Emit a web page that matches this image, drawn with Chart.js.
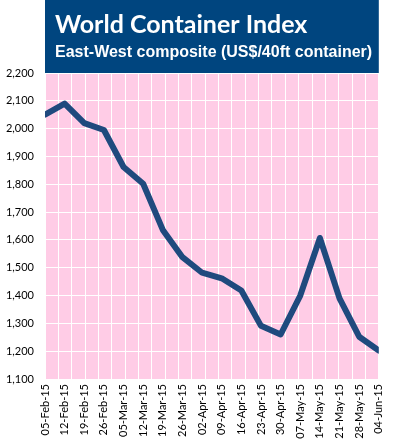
<!DOCTYPE html>
<html>
<head>
<meta charset="utf-8">
<script src="https://cdn.jsdelivr.net/npm/chart.js@4/dist/chart.umd.min.js"></script>
<style>
  html, body { margin: 0; padding: 0; background: #ffffff; }
  #wrap { width: 397px; height: 448px; }
</style>
</head>
<body>
<div id="wrap"><canvas id="c" width="397" height="448"></canvas></div>
<script>
const titleText = "World Container Index";
const subtitleText = "East-West composite (US$/40ft container)";
const categories = ["05-Feb-15","12-Feb-15","19-Feb-15","26-Feb-15","05-Mar-15","12-Mar-15","19-Mar-15","26-Mar-15","02-Apr-15","09-Apr-15","16-Apr-15","23-Apr-15","30-Apr-15","07-May-15","14-May-15","21-May-15","28-May-15","04-Jun-15"];
const compositeValues = [2050, 2090, 2020, 1995, 1862, 1802, 1636, 1538, 1482, 1462, 1418, 1291, 1260, 1400, 1607, 1390, 1252, 1202];
const yMin = 1100;
const yMax = 2200;
const yLabelStep = 100;

const backgroundPlugin = {
  id: 'bgAndTitle',
  beforeDraw(chart) {
    const { ctx, chartArea } = chart;
    ctx.save();
    ctx.fillStyle = '#FFCCE6';
    ctx.fillRect(chartArea.left, chartArea.top, chartArea.right - chartArea.left, chartArea.bottom - chartArea.top);
    ctx.fillStyle = '#00457F';
    ctx.fillRect(chartArea.left, 0, chartArea.right - chartArea.left, chartArea.top);
    ctx.fillStyle = '#ffffff';
    ctx.textBaseline = 'alphabetic';
    ctx.textAlign = 'left';
    ctx.font = 'bold 25px Lato';
    ctx.fillText(titleText, chartArea.left + 10, 33);
    ctx.font = 'bold 16px "Liberation Sans"';
    ctx.fillText(subtitleText, chartArea.left + 10, 57);
    ctx.restore();
  }
};

new Chart(document.getElementById('c'), {
  type: 'line',
  data: {
    labels: categories,
    datasets: [{
      data: compositeValues,
      borderColor: '#1F4A7E',
      borderWidth: 6,
      pointRadius: 0,
      tension: 0,
      fill: false,
      borderJoinStyle: 'round',
      borderCapStyle: 'round',
      clip: 0
    }]
  },
  options: {
    responsive: false,
    animation: false,
    devicePixelRatio: 1,
    layout: { padding: { top: 73, right: 11, left: 0, bottom: 0 } },
    plugins: { legend: { display: false }, title: { display: false }, tooltip: { enabled: false } },
    scales: {
      x: {
        type: 'category',
        offset: false,
        grid: { display: false, drawTicks: false },
        border: { display: false },
        ticks: {
          autoSkip: false,
          maxRotation: 90,
          minRotation: 90,
          padding: 5,
          color: '#000000',
          font: { family: 'Lato', size: 11 }
        },
        afterFit(scale) { scale.height = 69; }
      },
      xg: {
        type: 'linear',
        position: 'bottom',
        min: 0,
        max: 25,
        grid: { color: '#ffffff', lineWidth: 1, drawTicks: false },
        border: { display: false },
        ticks: { display: false, stepSize: 1 },
        afterFit(scale) { scale.height = 0; }
      },
      y: {
        min: yMin,
        max: yMax,
        grid: { color: '#ffffff', lineWidth: 1, drawTicks: false },
        border: { display: false },
        ticks: {
          stepSize: 50,
          padding: 11,
          color: '#000000',
          font: { family: 'Lato', size: 11 },
          callback(v) { return (v % yLabelStep === 0) ? v.toLocaleString('en-US') : ''; }
        },
        afterFit(scale) { scale.width = 45; }
      }
    }
  },
  plugins: [backgroundPlugin]
});
</script>
</body>
</html>
